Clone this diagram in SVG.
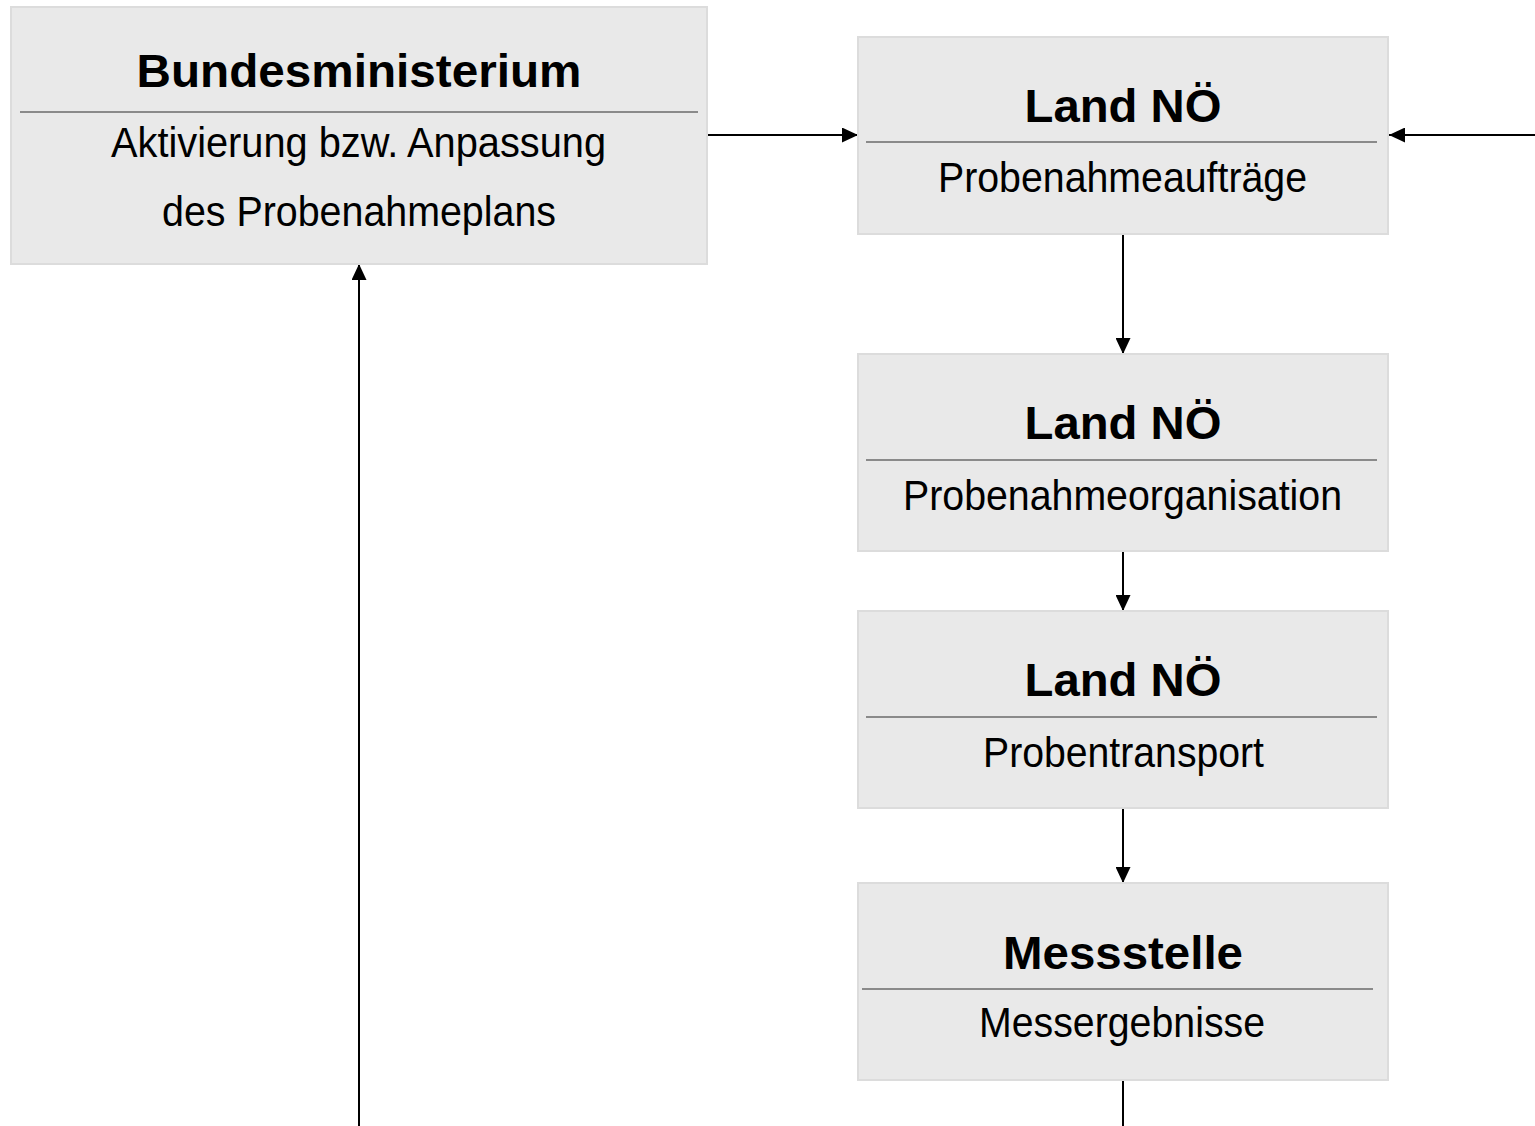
<svg xmlns="http://www.w3.org/2000/svg" width="1535" height="1126" viewBox="0 0 1535 1126">
<style>
.box{fill:#e9e9e9;stroke:#dcdcdc;stroke-width:2}
.div{stroke:#8a8a8a;stroke-width:2}
.t{font-family:"Liberation Sans",Arial,sans-serif;font-weight:bold;font-size:46px;fill:#000;text-anchor:middle}
.s{font-family:"Liberation Sans",Arial,sans-serif;font-size:43px;fill:#000;text-anchor:middle}
.c{stroke:#000;stroke-width:2;fill:none}
</style>
<defs>
<marker id="ah" viewBox="0 0 16 15" refX="16" refY="7.5" markerWidth="16" markerHeight="15" markerUnits="userSpaceOnUse" orient="auto">
<path d="M0,0 L16,7.5 L0,15 Z" fill="#000"/>
</marker>
</defs>
<rect width="1535" height="1126" fill="#fff"/>
<g id="connectors">
<line class="c" x1="707" y1="135" x2="858" y2="135" marker-end="url(#ah)"/>
<line class="c" x1="1535" y1="135" x2="1389" y2="135" marker-end="url(#ah)"/>
<line class="c" x1="1123" y1="234" x2="1123" y2="354" marker-end="url(#ah)"/>
<line class="c" x1="1123" y1="551" x2="1123" y2="611" marker-end="url(#ah)"/>
<line class="c" x1="1123" y1="808" x2="1123" y2="883" marker-end="url(#ah)"/>
<line class="c" x1="1123" y1="1080" x2="1123" y2="1126"/>
<line class="c" x1="359" y1="1126" x2="359" y2="264" marker-end="url(#ah)"/>
</g>
<g id="bundesministerium">
<rect class="box" x="11" y="7" width="696" height="257"/>
<text class="t" x="359" y="87" textLength="445" lengthAdjust="spacingAndGlyphs">Bundesministerium</text>
<line class="div" x1="20" y1="112" x2="698" y2="112"/>
<text class="s" x="358.5" y="157" textLength="495" lengthAdjust="spacingAndGlyphs">Aktivierung bzw. Anpassung</text>
<text class="s" x="359" y="226" textLength="394" lengthAdjust="spacingAndGlyphs">des Probenahmeplans</text>
</g>
<g id="land1">
<rect class="box" x="858" y="37" width="530" height="197"/>
<text class="t" x="1123" y="122" textLength="197" lengthAdjust="spacingAndGlyphs">Land NÖ</text>
<line class="div" x1="866" y1="142" x2="1377" y2="142"/>
<text class="s" x="1122.5" y="192" textLength="369" lengthAdjust="spacingAndGlyphs">Probenahmeaufträge</text>
</g>
<g id="land2">
<rect class="box" x="858" y="354" width="530" height="197"/>
<text class="t" x="1123" y="439" textLength="197" lengthAdjust="spacingAndGlyphs">Land NÖ</text>
<line class="div" x1="866" y1="460" x2="1377" y2="460"/>
<text class="s" x="1122.5" y="510" textLength="439" lengthAdjust="spacingAndGlyphs">Probenahmeorganisation</text>
</g>
<g id="land3">
<rect class="box" x="858" y="611" width="530" height="197"/>
<text class="t" x="1123" y="696" textLength="197" lengthAdjust="spacingAndGlyphs">Land NÖ</text>
<line class="div" x1="866" y1="717" x2="1377" y2="717"/>
<text class="s" x="1123.5" y="767" textLength="281" lengthAdjust="spacingAndGlyphs">Probentransport</text>
</g>
<g id="messstelle">
<rect class="box" x="858" y="883" width="530" height="197"/>
<text class="t" x="1123" y="969" textLength="240" lengthAdjust="spacingAndGlyphs">Messstelle</text>
<line class="div" x1="862" y1="989" x2="1373" y2="989"/>
<text class="s" x="1122" y="1037" textLength="286" lengthAdjust="spacingAndGlyphs">Messergebnisse</text>
</g>
</svg>
